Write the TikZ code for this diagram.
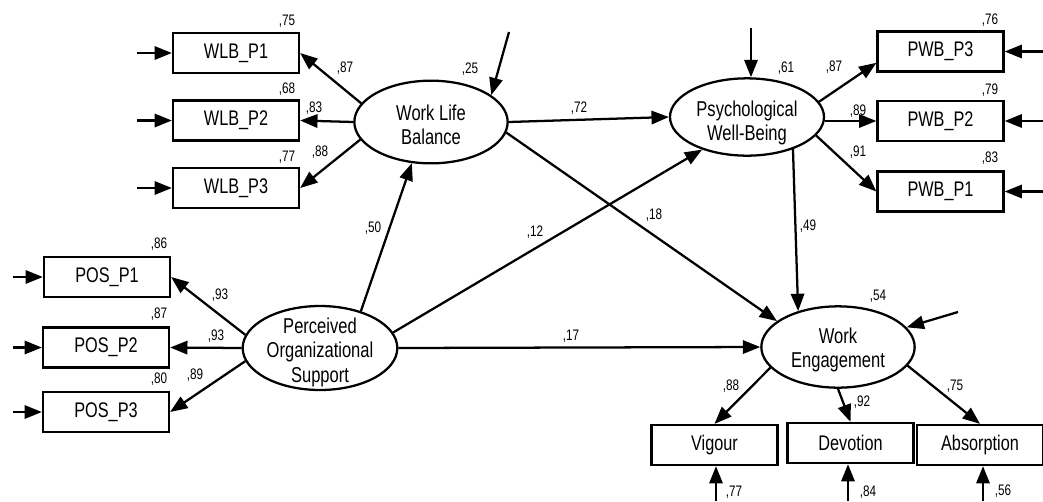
\documentclass[tikz,border=0pt]{standalone}
\usepackage{fontspec}
\usepackage{graphicx}
\setmainfont{Liberation Sans}
\usetikzlibrary{arrows.meta,shapes.geometric}
% text in this model is set slightly taller than wide
\newsavebox\stretchbox
\newcommand\tallbox[1]{\scalebox{1}[1.3]{#1}}

\begin{document}
\begin{tikzpicture}[
  x=0.75pt, y=-0.75pt,
  line width=1.7pt,
  >={Triangle[length=13pt,width=10pt]},
  tall/.style={execute at begin node={\setbox\stretchbox\hbox\bgroup},
               execute at end node={\egroup\scalebox{1}[1.3]{\usebox\stretchbox}}},
  obs/.style={draw, rectangle, minimum width=94.5pt, minimum height=30pt,
              inner sep=0pt, font=\fontsize{12.2}{14}\selectfont, tall},
  lat/.style={draw, ellipse, inner sep=0pt},
  lattext/.style={inner sep=0pt, font=\fontsize{12.4}{14}\selectfont},
  lab/.style={inner sep=0pt, font=\fontsize{8.8}{10}\selectfont, tall},
  arr/.style={->},
]
\useasboundingbox (0,0) rectangle (1043,501);

% ---------- latent variables ----------
\node[lat, minimum width=115pt, minimum height=62pt] (wlb) at (431,122) {};
\node[lattext] (wlbt) at (431,128)
  {\tallbox{\begin{tabular}{@{}c@{}}Work Life\\Balance\end{tabular}}};

\node[lat, minimum width=115.5pt, minimum height=58pt] (pwb) at (747,117) {};
\node[lattext] (pwbt) at (747,124)
  {\tallbox{\begin{tabular}{@{}c@{}}Psychological\\Well-Being\end{tabular}}};

\node[lat, minimum width=116pt, minimum height=63pt] (pos) at (320,348) {};
\node[lattext] (post) at (320,353)
  {\tallbox{\begin{tabular}{@{}c@{}}Perceived\\Organizational\\Support\end{tabular}}};

\node[lat, minimum width=115pt, minimum height=61pt] (we) at (838,347) {};
\node[lattext] (wet) at (838,351)
  {\tallbox{\begin{tabular}{@{}c@{}}Work\\Engagement\end{tabular}}};

% ---------- observed indicators ----------
\node[obs] (wlb1) at (236,53)    {WLB\_P1};
\node[obs] (wlb2) at (236,120.5) {WLB\_P2};
\node[obs] (wlb3) at (236,188)   {WLB\_P3};

\node[obs] (pwb3) at (940.5,51.5)  {PWB\_P3};
\node[obs] (pwb2) at (940.5,121)   {PWB\_P2};
\node[obs] (pwb1) at (940.5,191.5) {PWB\_P1};

\node[obs] (pos1) at (107,277)   {POS\_P1};
\node[obs] (pos2) at (106,347.5) {POS\_P2};
\node[obs] (pos3) at (106,412)   {POS\_P3};

\node[obs] (vig) at (714.5,445) {Vigour};
\node[obs] (dev) at (850.5,443) {Devotion};
\node[obs] (abs) at (980,445)   {Absorption};

% ---------- error terms ----------
\coordinate (ewlb1) at (137,53);
\coordinate (ewlb2) at (137,120.5);
\coordinate (ewlb3) at (137,188);
\coordinate (epos1) at (13,277);
\coordinate (epos2) at (13,347.5);
\coordinate (epos3) at (13,412);
\coordinate (epwb3) at (1043,51.5);
\coordinate (epwb2) at (1043,121);
\coordinate (epwb1) at (1043,191.5);
\coordinate (evig) at (716,501);
\coordinate (edev) at (848,501);
\coordinate (eabs) at (983,501);
\coordinate (ewlb) at (509,32);
\coordinate (epwb) at (751,28);
\coordinate (ewe)  at (958,312);

\draw[arr] (ewlb1) -- (wlb1.west);
\draw[arr] (ewlb2) -- (wlb2.west);
\draw[arr] (ewlb3) -- (wlb3.west);
\draw[arr] (epos1) -- (pos1.west);
\draw[arr] (epos2) -- (pos2.west);
\draw[arr] (epos3) -- (pos3.west);
\draw[arr] (epwb3) -- (pwb3.east);
\draw[arr] (epwb2) -- (pwb2.east);
\draw[arr] (epwb1) -- (pwb1.east);
\draw[arr] (evig) -- (evig |- vig.south);
\draw[arr] (edev) -- (edev |- dev.south);
\draw[arr] (eabs) -- (eabs |- abs.south);
\draw[arr] (ewlb) -- (wlb.24);
\draw[arr] (epwb) -- (epwb |- pwb.north);
\draw[arr] (ewe) -- (we.16);

% ---------- measurement paths ----------
\draw[arr] (wlb.165) -- (wlb1.east);
\draw[arr] (wlb.west) -- (wlb2.east);
\draw[arr] (wlb.194) -- (wlb3.east);

\draw[arr] (pwb.12) -- (pwb3.190);
\draw[arr] (pwb2.west -| pwb.east) -- (pwb2.west);
\draw[arr] (pwb.-15) -- (pwb1.west);

\draw[arr] (pos.170) -- (pos1.east);
\draw[arr] (pos.west) -- (pos2.east);
\draw[arr] (pos.190) -- (pos3.east);

\draw[arr] (we.197) -- (vig.north);
\draw[arr] (we.south) -- (dev.north);
\draw[arr] (we.-15) -- (abs.north);

% ---------- structural paths ----------
\draw[arr] (wlb.east) -- (pwb.west);
\draw[arr] (wlb.-8) -- (we.157);
\draw[arr] (pwb.-35) -- (we.138);
\draw[arr] (pos.42) -- (wlb.245);
\draw[arr] (pos.12) -- (pwb.216);
\draw[arr] (pos.east) -- (we.west);

% ---------- squared multiple correlations ----------
\node[lab] (r-wlb1) at (287,21)  {,75};
\node[lab] (r-wlb2) at (287,89)  {,68};
\node[lab] (r-wlb3) at (287,157) {,77};
\node[lab] (r-pwb3) at (990,20)  {,76};
\node[lab] (r-pwb2) at (990,90)  {,79};
\node[lab] (r-pwb1) at (990,158) {,83};
\node[lab] (r-pos1) at (159,244) {,86};
\node[lab] (r-pos2) at (159,314) {,87};
\node[lab] (r-pos3) at (159,379) {,80};
\node[lab] (r-wlb)  at (470,69)  {,25};
\node[lab] (r-pwb)  at (786,68)  {,61};
\node[lab] (r-we)   at (878,296) {,54};
\node[lab] (r-vig)  at (734,492) {,77};
\node[lab] (r-dev)  at (868,492) {,84};
\node[lab] (r-abs)  at (1003,491) {,56};

% ---------- standardized loadings and paths ----------
\node[lab] (l-wlb1) at (345,68)  {,87};
\node[lab] (l-wlb2) at (314,108) {,83};
\node[lab] (l-wlb3) at (320,152) {,88};
\node[lab] (l-pwb3) at (834,67)  {,87};
\node[lab] (l-pwb2) at (858,111) {,89};
\node[lab] (l-pwb1) at (858,152) {,91};
\node[lab] (l-pos1) at (220,295) {,93};
\node[lab] (l-pos2) at (216,336) {,93};
\node[lab] (l-pos3) at (195,375) {,89};
\node[lab] (l-vig)  at (731,386) {,88};
\node[lab] (l-dev)  at (862,402) {,92};
\node[lab] (l-abs)  at (955,386) {,75};
\node[lab] (p-wlb-pwb) at (579,108) {,72};
\node[lab] (p-wlb-we)  at (654,215) {,18};
\node[lab] (p-pwb-we)  at (808,226) {,49};
\node[lab] (p-pos-wlb) at (373,228) {,50};
\node[lab] (p-pos-pwb) at (535,232) {,12};
\node[lab] (p-pos-we)  at (571,336) {,17};
\end{tikzpicture}
\end{document}
